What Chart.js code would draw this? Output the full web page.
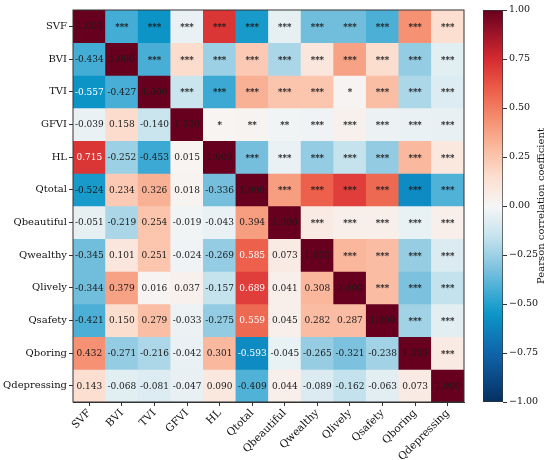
<!DOCTYPE html>
<html>
<head>
<meta charset="utf-8">
<script src="https://cdn.jsdelivr.net/npm/chart.js@4.4.1/dist/chart.umd.min.js"></script>
<style>
    body { margin: 0; background: #fff; }
    #wrap { position: relative; width: 550px; height: 460px; overflow: hidden; }
    #heatmap { position: absolute; left: 0; top: 0; }
    #colorbar { position: absolute; left: 470px; top: 0; }
</style>
</head>
<body>
<div id="wrap">
    <canvas id="heatmap" width="470" height="460"></canvas>
    <canvas id="colorbar" width="80" height="460"></canvas>
</div>
<script>
// variables, in row / column order
const variables = ['SVF', 'BVI', 'TVI', 'GFVI', 'HL', 'Qtotal', 'Qbeautiful', 'Qwealthy', 'Qlively', 'Qsafety', 'Qboring', 'Qdepressing'];

// lower triangle of the correlation matrix (row r, columns 0..r-1)
const corrLower = [
    [],
    [-0.434],
    [-0.557, -0.427],
    [-0.039, 0.158, -0.140],
    [0.715, -0.252, -0.453, 0.015],
    [-0.524, 0.234, 0.326, 0.018, -0.336],
    [-0.051, -0.219, 0.254, -0.019, -0.043, 0.394],
    [-0.345, 0.101, 0.251, -0.024, -0.269, 0.585, 0.073],
    [-0.344, 0.379, 0.016, 0.037, -0.157, 0.689, 0.041, 0.308],
    [-0.421, 0.150, 0.279, -0.033, -0.275, 0.559, 0.045, 0.282, 0.287],
    [0.432, -0.271, -0.216, -0.042, 0.301, -0.593, -0.045, -0.265, -0.321, -0.238],
    [0.143, -0.068, -0.081, -0.047, 0.090, -0.409, 0.044, -0.089, -0.162, -0.063, 0.073]
];

// significance marks, upper triangle (row r, columns r+1..11)
const sigUpper = [
    ['***', '***', '***', '***', '***', '***', '***', '***', '***', '***', '***'],
    ['***', '***', '***', '***', '***', '***', '***', '***', '***', '***'],
    ['***', '***', '***', '***', '***', '*', '***', '***', '***'],
    ['*', '**', '**', '***', '***', '***', '***', '***'],
    ['***', '***', '***', '***', '***', '***', '***'],
    ['***', '***', '***', '***', '***', '***'],
    ['***', '***', '***', '***', '***'],
    ['***', '***', '***', '***'],
    ['***', '***', '***'],
    ['***', '***'],
    ['***'],
    []
];

const colorbarMin = -1;
const colorbarMax = 1;
const colorbarStep = 0.25;

// colour map stops [value, r, g, b]
const cmapStops = [
    [-1.00, 5, 48, 97],
    [-0.75, 16, 100, 170],
    [-0.55, 12, 150, 200],
    [-0.45, 60, 170, 212],
    [-0.30, 135, 198, 224],
    [-0.15, 200, 228, 238],
    [0.00, 246, 246, 246],
    [0.15, 252, 222, 207],
    [0.30, 250, 185, 158],
    [0.45, 245, 140, 110],
    [0.60, 236, 92, 72],
    [0.75, 214, 42, 48],
    [1.00, 103, 0, 31]
];

function colorFor(v) {
    for (let i = 1; i < cmapStops.length; i++) {
        const a = cmapStops[i - 1], b = cmapStops[i];
        if (v <= b[0]) {
            const t = Math.max(0, (v - a[0]) / (b[0] - a[0]));
            const ch = k => Math.round(a[k] + (b[k] - a[k]) * t);
            return `rgb(${ch(1)}, ${ch(2)}, ${ch(3)})`;
        }
    }
    return 'rgb(103, 0, 31)';
}

function corrAt(r, c) {
    if (r === c) return 1;
    return r > c ? corrLower[r][c] : corrLower[c][r];
}

const serif = "'DejaVu Serif', 'Liberation Serif', serif";
const n = variables.length;

const datasets = variables.map((_, r) => ({
    label: variables[r],
    data: variables.map(() => [r - 0.5, r + 0.5]),
    backgroundColor: variables.map((_, c) => colorFor(corrAt(r, c))),
    borderWidth: 0,
    grouped: false,
    barPercentage: 1,
    categoryPercentage: 1
}));

// numbers in the lower half, stars in the upper half, frame round the map
const cellText = {
    id: 'cellText',
    afterDatasetsDraw(chart) {
        const { ctx, scales: { x, y } } = chart;
        ctx.save();
        ctx.textAlign = 'center';
        ctx.textBaseline = 'middle';
        for (let r = 0; r < n; r++) {
            for (let c = 0; c < n; c++) {
                const px = x.getPixelForValue(c);
                const py = y.getPixelForValue(r);
                let text, color = '#1a1a1a';
                if (c > r) {
                    text = sigUpper[r][c - r - 1];
                    ctx.font = `bold 8.5px ${serif}`;
                } else {
                    const v = corrAt(r, c);
                    text = v.toFixed(3);
                    ctx.font = `9px ${serif}`;
                    if (r !== c && Math.abs(v) > 0.55) color = '#ffffff';
                }
                ctx.fillStyle = color;
                ctx.fillText(text, px, py + (c > r ? 1.5 : 0.5));
            }
        }
        ctx.strokeStyle = '#333';
        ctx.lineWidth = 1;
        const a = chart.chartArea;
        ctx.strokeRect(a.left, a.top, a.right - a.left, a.bottom - a.top);
        ctx.restore();
    }
};

new Chart(document.getElementById('heatmap'), {
    type: 'bar',
    data: { labels: variables, datasets: datasets },
    options: {
        responsive: false,
        animation: false,
        events: [],
        layout: { padding: { top: 10, right: 6, left: 0, bottom: 0 } },
        plugins: { legend: { display: false }, tooltip: { enabled: false } },
        scales: {
            x: {
                type: 'category',
                offset: true,
                grid: { offset: false, drawOnChartArea: false, tickLength: 4, color: '#333' },
                border: { display: true, color: '#333' },
                ticks: { color: '#111', font: { family: serif, size: 10.5 }, maxRotation: 45, minRotation: 45, padding: 1, autoSkip: false },
                afterFit(scale) { scale.height = 58; }
            },
            y: {
                type: 'linear',
                min: -0.5,
                max: n - 0.5,
                reverse: true,
                grid: { drawOnChartArea: false, tickLength: 4, color: '#333' },
                border: { display: true, color: '#333' },
                afterBuildTicks(scale) { scale.ticks = variables.map((_, i) => ({ value: i })); },
                ticks: {
                    color: '#111',
                    font: { family: serif, size: 10 },
                    padding: 2,
                    callback: value => variables[value]
                },
                afterFit(scale) { scale.width = 73; }
            }
        }
    },
    plugins: [cellText]
});

const colorbarTitle = {
    id: 'colorbarTitle',
    afterDraw(chart) {
        const { ctx, chartArea } = chart;
        ctx.save();
        ctx.translate(71, (chartArea.top + chartArea.bottom) / 2);
        ctx.rotate(-Math.PI / 2);
        ctx.textAlign = 'center';
        ctx.textBaseline = 'middle';
        ctx.fillStyle = '#111';
        ctx.font = `10px ${serif}`;
        ctx.fillText('Pearson correlation coefficient', 0, 0);
        ctx.restore();
    }
};

new Chart(document.getElementById('colorbar'), {
    type: 'bar',
    data: {
        labels: ['r'],
        datasets: [{
            data: [[colorbarMin, colorbarMax]],
            backgroundColor(context) {
                const chart = context.chart;
                const yScale = chart.scales.y;
                if (!chart.chartArea || !yScale) return '#ccc';
                const y0 = yScale.getPixelForValue(colorbarMin);
                const y1 = yScale.getPixelForValue(colorbarMax);
                const g = chart.ctx.createLinearGradient(0, y0, 0, y1);
                cmapStops.forEach(s => {
                    g.addColorStop((s[0] - colorbarMin) / (colorbarMax - colorbarMin), `rgb(${s[1]}, ${s[2]}, ${s[3]})`);
                });
                return g;
            },
            borderColor: '#333',
            borderWidth: 1,
            borderSkipped: false,
            barPercentage: 1,
            categoryPercentage: 1
        }]
    },
    options: {
        responsive: false,
        animation: false,
        events: [],
        layout: { padding: { top: 10, left: 13, right: 0, bottom: 58 } },
        plugins: { legend: { display: false }, tooltip: { enabled: false } },
        scales: {
            x: { display: false },
            y: {
                position: 'right',
                min: colorbarMin,
                max: colorbarMax,
                grid: { drawOnChartArea: false, tickLength: 4, color: '#333' },
                border: { display: false },
                ticks: {
                    stepSize: colorbarStep,
                    color: '#111',
                    font: { family: serif, size: 9.5 },
                    padding: 2,
                    callback: value => (value < 0 ? '\u2212' : '') + Math.abs(value).toFixed(2)
                },
                afterFit(scale) { scale.width = 47; }
            }
        }
    },
    plugins: [colorbarTitle]
});
</script>
</body>
</html>
